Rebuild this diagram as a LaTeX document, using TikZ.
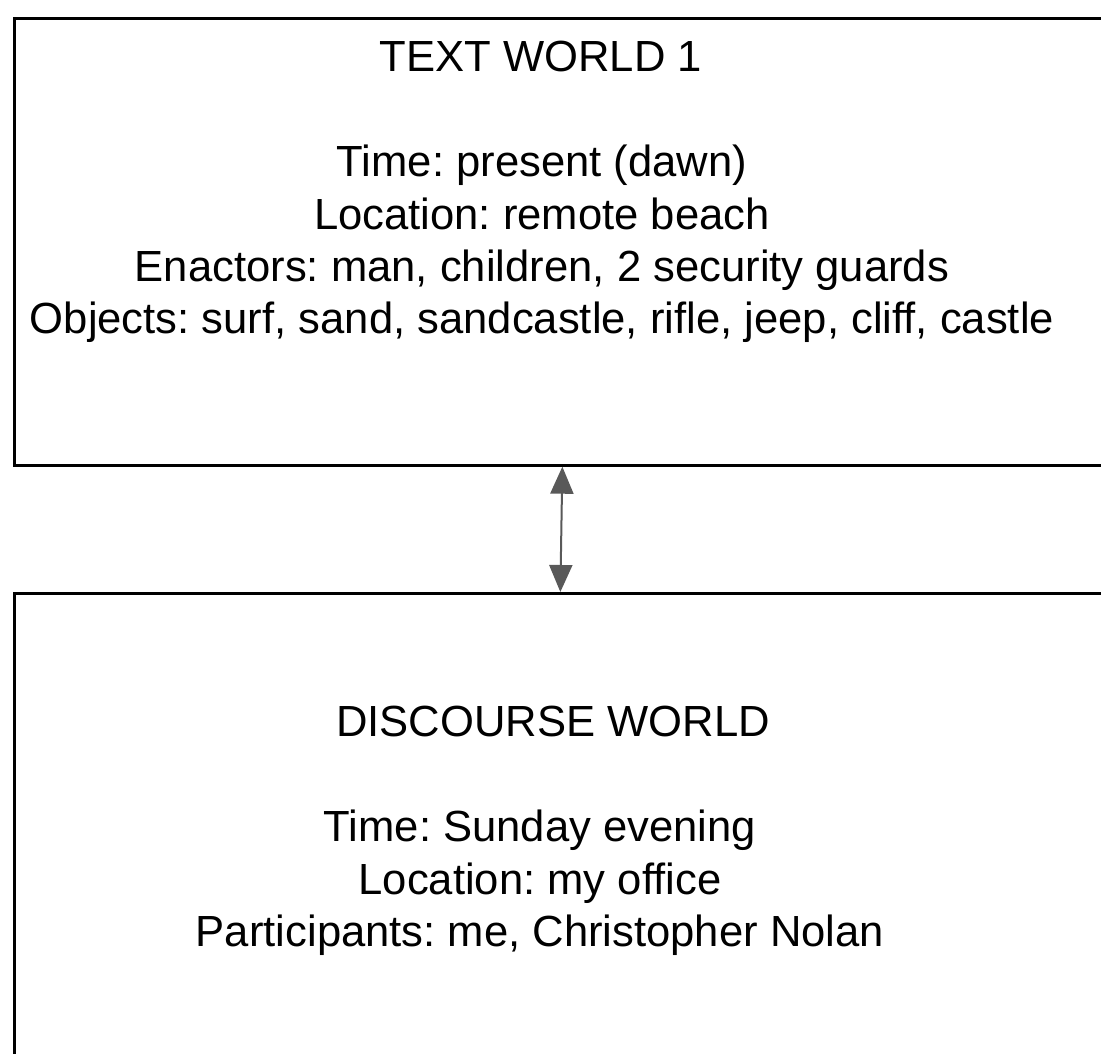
\documentclass[tikz,border=0pt]{standalone}
\usepackage{fontspec}
\setmainfont{Liberation Sans}
\frenchspacing
\usepackage{tikz}
\usetikzlibrary{arrows.meta, positioning}
\definecolor{linkgray}{RGB}{89,89,89}
\tikzstyle{worldbox} = [draw=black, line width=2.7pt, rectangle, inner sep=0pt, anchor=north west]
\tikzstyle{worldtitle} = [anchor=base, inner sep=0pt, font=\fontsize{43.6}{52.3}\selectfont]
\tikzstyle{worlddetails} = [anchor=base, inner sep=0pt, align=center, font=\fontsize{43.6}{52.3}\selectfont]
\tikzstyle{link} = [draw=linkgray, fill=linkgray, line width=2pt, {Triangle[width=23pt,length=27pt]}-{Triangle[width=23pt,length=27pt]}]

\begin{document}
\begin{tikzpicture}[x=1pt, y=-1pt]
	\clip (0,0) rectangle (1101,1054);
	\node [worldbox, minimum width=1117pt, minimum height=447pt] (textworld) at (13,17) {};
	\node [worldbox, minimum width=1117pt, minimum height=520pt] (discourse) at (13,592) {};
	\node [worldtitle] (textworldtitle) at (541,72) {TEXT WORLD 1};
	% base anchor sits on the last line
	\node [worlddetails] (textworldinfo) at (542,333.6) {%
		Time: present (dawn)\\
		Location: remote beach\\
		Enactors: man, children, 2 security guards\\
		Objects: surf, sand, sandcastle, rifle, jeep, cliff, castle};
	\node [worldtitle] (discoursetitle) at (553,736.7) {DISCOURSE WORLD};
	\node [worlddetails] (discourseinfo) at (540,946.3) {%
		Time: Sunday evening\\
		Location: my office\\
		Participants: me, Christopher Nolan};
	\draw [link] ([xshift=-10.5pt]textworld.south) -- ([xshift=-12.5pt]discourse.north);
\end{tikzpicture}
\end{document}
